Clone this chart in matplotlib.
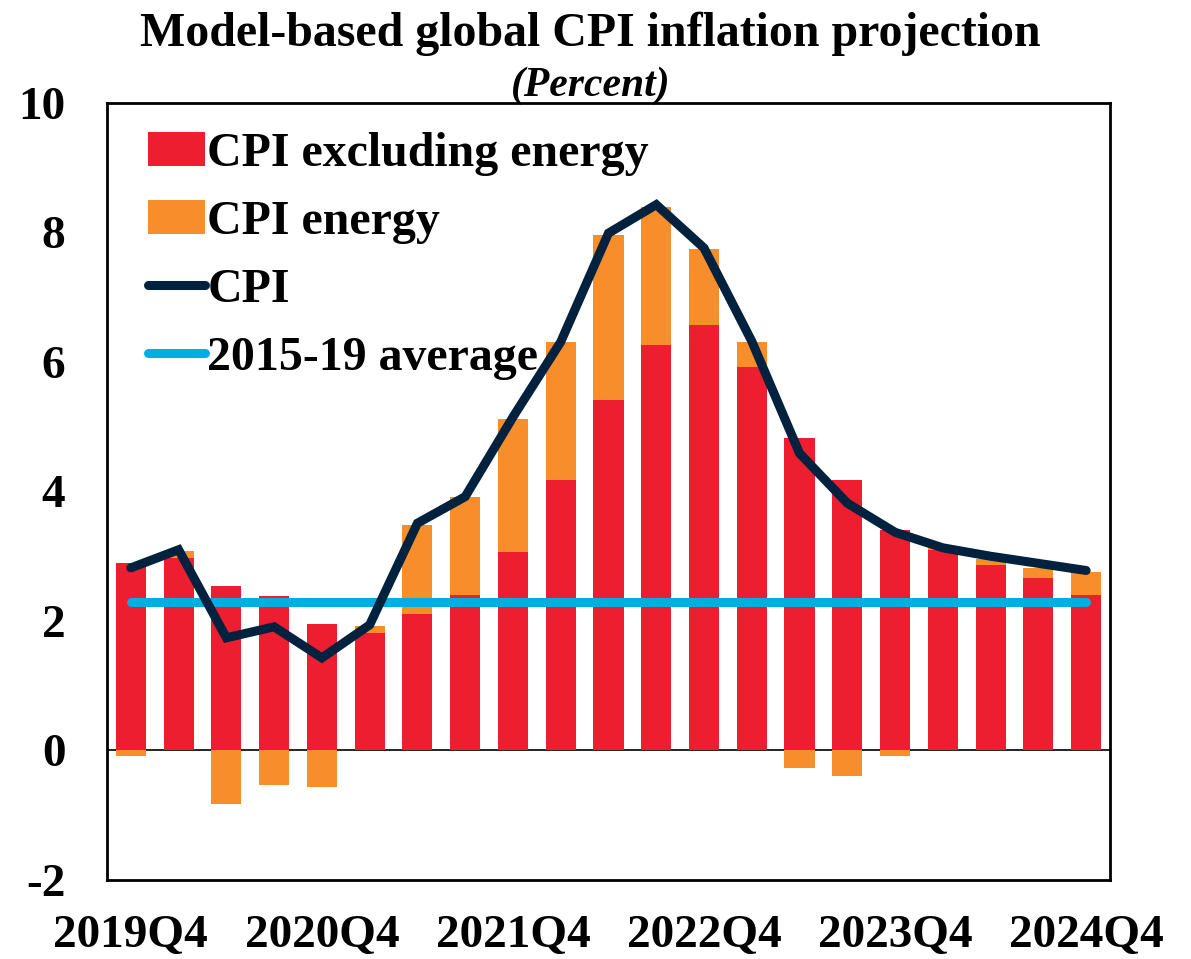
import matplotlib.pyplot as plt
import numpy as np

plt.rcParams['font.family'] = ['Liberation Serif', 'DejaVu Serif']
plt.rcParams['font.weight'] = 'bold'
plt.rcParams['axes.unicode_minus'] = False

quarters = ['2019Q4', '2020Q1', '2020Q2', '2020Q3', '2020Q4', '2021Q1', '2021Q2',
            '2021Q3', '2021Q4', '2022Q1', '2022Q2', '2022Q3', '2022Q4', '2023Q1',
            '2023Q2', '2023Q3', '2023Q4', '2024Q1', '2024Q2', '2024Q3', '2024Q4']
cpi_ex_energy = [2.89, 2.98, 2.54, 2.39, 1.96, 1.81, 2.11, 2.40, 3.06, 4.18, 5.42,
                 6.27, 6.57, 5.93, 4.82, 4.18, 3.41, 3.10, 2.87, 2.66, 2.40]
cpi_energy = [-0.09, 0.10, -0.82, -0.53, -0.56, 0.12, 1.38, 1.51, 2.06, 2.13, 2.54,
              2.12, 1.17, 0.38, -0.27, -0.39, -0.08, 0.02, 0.08, 0.16, 0.36]
cpi = [2.82, 3.10, 1.74, 1.91, 1.43, 1.94, 3.51, 3.92, 5.15, 6.31, 7.99,
       8.43, 7.76, 6.32, 4.59, 3.82, 3.37, 3.13, 3.00, 2.89, 2.78]
avg_2015_19 = 2.29
tick_labels = ['2019Q4', '2020Q4', '2021Q4', '2022Q4', '2023Q4', '2024Q4']

red = '#EC1E2F'
orange = '#F78E2B'
navy = '#00223F'
cyan = '#00AEE3'

fig = plt.figure(figsize=(11.91, 9.59), dpi=100)
ax = fig.add_axes([0.0898, 0.0824, 0.8422, 0.8102])

x = np.arange(len(quarters))
ex = np.array(cpi_ex_energy)
en = np.array(cpi_energy)
en_bottom = np.where(en >= 0, ex, 0)

b1 = ax.bar(x, ex, width=0.63, color=red, zorder=2)
b2 = ax.bar(x, en, bottom=en_bottom, width=0.63, color=orange, zorder=2)
l1, = ax.plot(x, cpi, color=navy, lw=6.5, solid_capstyle='round',
              solid_joinstyle='miter', zorder=4)
l2, = ax.plot([x[0], x[-1]], [avg_2015_19, avg_2015_19], color=cyan, lw=6.5,
              solid_capstyle='round', zorder=3)
ax.axhline(0, color='black', lw=1.2, zorder=1)

ax.set_xlim(-0.5, len(quarters) - 0.5)
ax.set_ylim(-2, 10)
ax.set_yticks([-2, 0, 2, 4, 6, 8, 10])
ax.set_xticks(x[::4])
ax.set_xticklabels(tick_labels)
ax.tick_params(axis='both', length=0, labelsize=34)
ax.tick_params(axis='y', pad=30)
ax.tick_params(axis='x', pad=25)
for s in ax.spines.values():
    s.set_linewidth(2)

ax.legend([b1, b2, l1, l2],
          ['CPI excluding energy', 'CPI energy', 'CPI', '2015-19 average'],
          loc='upper left', bbox_to_anchor=(0.041, 0.963), frameon=False,
          fontsize=34.5, handlelength=1.19, handletextpad=0.05, labelspacing=0.5,
          borderaxespad=0, borderpad=0)

fig.text(0.496, 0.965, 'Model-based global CPI inflation projection', ha='center',
         va='center', fontsize=34.5, fontweight='bold')
fig.text(0.496, 0.911, '(Percent)', ha='center', va='center', fontsize=30,
         fontweight='bold', style='italic')

fig.savefig('out.png', dpi=100)
